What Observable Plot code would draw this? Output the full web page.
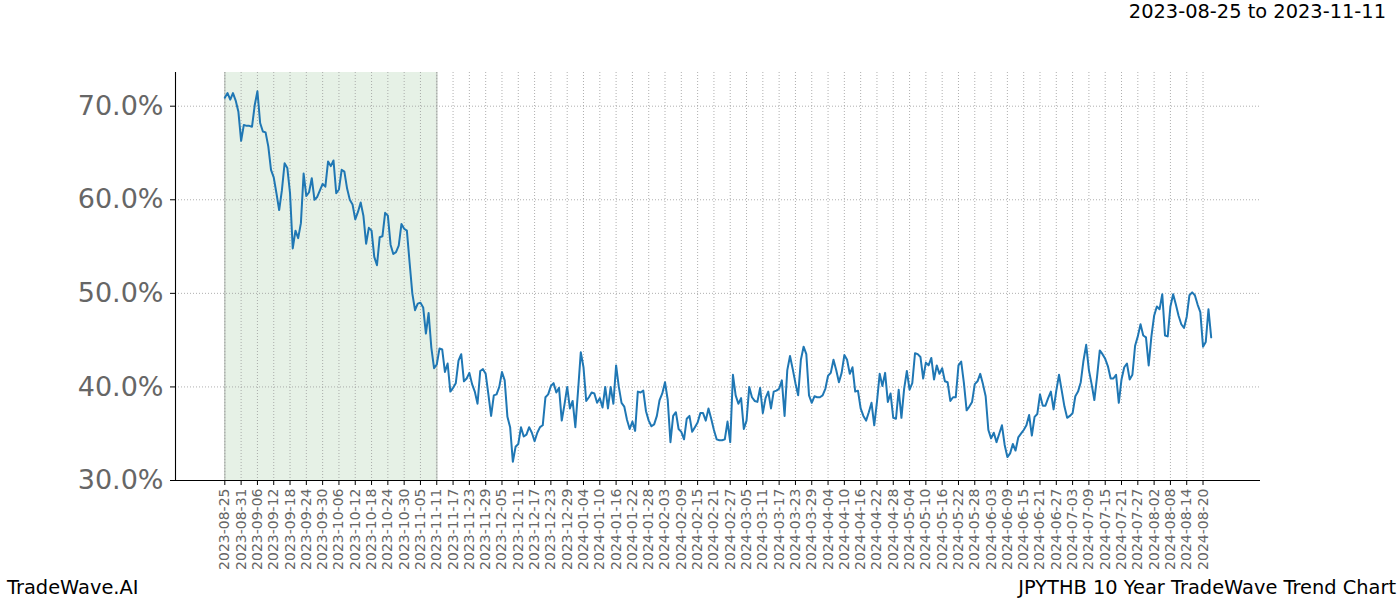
<!DOCTYPE html>
<html>
<head>
<meta charset="utf-8">
<script src="https://cdn.jsdelivr.net/npm/d3@7"></script>
<script src="https://cdn.jsdelivr.net/npm/@observablehq/plot@0.6"></script>
<style>
  body { margin: 0; background: #fff; }
  #wrap { position: relative; width: 1400px; height: 600px; font-family: "DejaVu Sans", sans-serif; overflow: hidden; }
  #wrap svg { position: absolute; left: 0; top: 0; }
  .t { position: absolute; white-space: nowrap; color: #000; font-size: 19.4px; line-height: 1; font-family: "DejaVu Sans", sans-serif; }
</style>
</head>
<body>
<div id="wrap">
  <div class="t" style="right:14px; top:2px;">2023-08-25 to 2023-11-11</div>
  <div class="t" style="left:7px; top:578px;">TradeWave.AI</div>
  <div class="t" style="right:4px; top:578px;">JPYTHB 10 Year TradeWave Trend Chart</div>
</div>
<script>
// Trend values (%), one per data row, in order
const valuesAugOct = [
  70.9, 71.4, 70.7, 71.4, 70.6, 69.4, 66.3, 68.0, 67.9, 67.9,
  67.8, 70.1, 71.6, 68.2, 67.3, 67.2, 65.7, 63.2, 62.4, 60.7,
  58.9, 61.0, 63.9, 63.4, 60.7, 54.8, 56.7, 55.9, 57.5, 62.8,
  60.4, 60.8, 62.3, 60.0, 60.3, 61.0, 61.7, 61.4, 64.1, 63.6,
  64.2, 60.7, 61.1, 63.2, 63.0, 61.2, 60.0, 59.5, 57.9, 58.7,
  59.7, 58.3, 55.3, 57.0, 56.7, 53.9, 53.0, 56.0, 56.1, 58.6,
  58.3, 55.2, 54.2, 54.4, 55.1, 57.4, 56.9, 56.7, 53.3, 50.0,
  48.2, 48.9
];
const valuesNovJan = [
  49.0, 48.5, 45.7, 47.9, 44.2, 42.0, 42.4, 44.1, 44.0, 41.6,
  42.5, 39.5, 39.9, 40.4, 42.8, 43.5, 40.6, 40.9, 41.5, 40.3,
  39.5, 38.2, 41.7, 41.9, 41.4, 39.2, 36.9, 39.1, 39.2, 40.0,
  41.6, 40.7, 36.8, 35.7, 32.0, 33.6, 33.9, 35.7, 34.7, 34.9,
  35.7, 35.1, 34.2, 35.1, 35.7, 35.9, 38.9, 39.2, 40.1, 40.4,
  39.4, 39.9, 36.4, 38.1, 40.0, 37.7, 38.5, 35.7, 39.6, 43.7,
  42.1, 38.5, 38.9, 39.4, 39.3, 38.3, 38.8, 37.8, 40.0, 37.7,
  40.0, 38.2, 42.3
];
const valuesJanMar = [
  40.0, 38.3, 37.9, 36.5, 35.5, 36.3, 35.3, 39.5, 39.4, 39.6,
  37.4, 36.4, 35.8, 36.0, 36.9, 38.6, 39.3, 40.5, 38.6, 34.1,
  36.9, 37.3, 35.5, 35.2, 34.4, 36.6, 36.9, 35.2, 35.7, 36.2,
  37.2, 37.2, 36.4, 37.7, 36.6, 35.4, 34.4, 34.3, 34.3, 34.4,
  36.3, 34.1, 41.3, 39.1, 38.2, 38.8, 35.5, 36.4, 40.0, 38.9,
  38.5, 38.4, 39.9, 37.2, 38.8, 39.5, 37.7, 39.5, 39.6, 39.8,
  40.7, 36.9, 41.8, 43.3, 41.9, 40.4, 39.1, 42.9, 44.3
];
const valuesMarJun = [
  43.5,
  39.1, 38.3, 39.0, 38.9, 38.9, 39.1, 39.8, 41.2, 41.5, 42.9,
  41.8, 40.5, 41.5, 43.4, 42.9, 41.4, 42.1, 39.5, 39.6, 37.7,
  36.9, 36.4, 37.3, 38.3, 35.9, 38.4, 41.4, 40.1, 41.5, 38.4,
  39.3, 36.7, 36.6, 39.7, 36.7, 39.8, 41.7, 39.7, 40.4, 43.6,
  43.5, 43.2, 40.9, 42.6, 42.3, 43.1, 40.8, 42.3, 41.4, 42.0,
  40.6, 40.5, 38.5, 38.9, 38.9, 42.3, 42.7, 40.4, 37.5, 37.9,
  38.4, 40.3, 40.6, 41.4, 40.3, 39.0, 35.4, 34.5, 35.1, 34.1,
  35.0, 35.9, 33.8, 32.5
];
const valuesJunAug = [
  32.9, 33.9, 33.2, 34.6, 35.0, 35.4, 35.9, 37.0, 34.8, 36.8,
  37.1, 39.2, 38.0, 38.0, 38.8, 39.5, 37.6, 39.6, 41.3, 39.6,
  37.9, 36.7, 36.9, 37.2, 39.0, 39.5, 40.5, 42.8, 44.5, 41.8,
  40.3, 38.6, 41.1, 43.9, 43.5, 43.0, 42.2, 40.9, 40.9, 41.3,
  38.3, 40.8, 42.1, 42.5, 40.8, 41.3, 44.4, 45.4, 46.7, 45.5,
  45.3, 42.3, 45.4, 47.6, 48.6, 48.3, 49.9, 45.5, 45.4, 48.6,
  49.9, 48.8, 47.6, 46.7, 46.3, 47.5, 49.8, 50.1, 49.8, 48.8,
  48.0, 44.3, 44.8, 48.3, 45.3
];

// x tick labels, one every 6 data rows
const tickLabels = [
  "2023-08-25","2023-08-31","2023-09-06","2023-09-12","2023-09-18","2023-09-24","2023-09-30",
  "2023-10-06","2023-10-12","2023-10-18","2023-10-24","2023-10-30","2023-11-05","2023-11-11",
  "2023-11-17","2023-11-23","2023-11-29","2023-12-05","2023-12-11","2023-12-17","2023-12-23",
  "2023-12-29","2024-01-04","2024-01-10","2024-01-16","2024-01-22","2024-01-28","2024-02-03",
  "2024-02-09","2024-02-15","2024-02-21","2024-02-27","2024-03-05","2024-03-11","2024-03-17",
  "2024-03-23","2024-03-29","2024-04-04","2024-04-10","2024-04-16","2024-04-22","2024-04-28",
  "2024-05-04","2024-05-10","2024-05-16","2024-05-22","2024-05-28","2024-06-03","2024-06-09",
  "2024-06-15","2024-06-21","2024-06-27","2024-07-03","2024-07-09","2024-07-15","2024-07-21",
  "2024-07-27","2024-08-02","2024-08-08","2024-08-14","2024-08-20"
];
const tickStep = 6;
const yTicks = [30, 40, 50, 60, 70];
const highlightRange = ["2023-08-25", "2023-11-11"];

const values = [...valuesAugOct, ...valuesNovJan, ...valuesJanMar, ...valuesMarJun, ...valuesJunAug];
const rows = values.map((v, i) => ({i, v}));
const tickIdx = tickLabels.map((_, k) => k * tickStep);
const span = {
  x1: tickLabels.indexOf(highlightRange[0]) * tickStep,
  x2: tickLabels.indexOf(highlightRange[1]) * tickStep
};

const n = values.length - 1;
const pad = n * 0.05;
const xDomain = [-pad, n + pad];
const yMin = d3.min(values), yMax = d3.max(values);
const yDomain = [30, 73.6];

const grid = {stroke: "#9a9a9a", strokeWidth: 0.8, strokeDasharray: "1,2"};

const chart = Plot.plot({
  width: 1400,
  height: 600,
  marginLeft: 175,
  marginRight: 140,
  marginTop: 72,
  marginBottom: 120,
  style: {fontFamily: "DejaVu Sans, sans-serif", background: "transparent", overflow: "visible"},
  x: {type: "linear", domain: xDomain},
  y: {domain: yDomain},
  marks: [
    Plot.rect([span], {x1: "x1", x2: "x2", fill: "#e6f1e6"}),
    Plot.ruleX([span.x1, span.x2], {stroke: "#c5ccc5", strokeWidth: 1.6}),
    Plot.ruleX(tickIdx, grid),
    Plot.ruleY(yTicks, grid),
    Plot.line(rows, {x: "i", y: "v", stroke: "#1f77b4", strokeWidth: 2}),
    Plot.ruleX([xDomain[0]], {stroke: "#000", strokeWidth: 1.1}),
    Plot.ruleY([yDomain[0]], {stroke: "#000", strokeWidth: 1.1}),
    Plot.axisX(tickIdx, {
      tickFormat: d => tickLabels[Math.round(d / tickStep)],
      tickRotate: -90, tickSize: 5, tickPadding: 3,
      fontSize: 14, fill: "#666", stroke: "#000", label: null
    }),
    Plot.axisY(yTicks, {
      tickFormat: d => d.toFixed(1) + "%",
      tickSize: 5, tickPadding: 7,
      fontSize: 27, fill: "#666", stroke: "#000", label: null
    })
  ]
});
document.getElementById("wrap").prepend(chart);
</script>
</body>
</html>
